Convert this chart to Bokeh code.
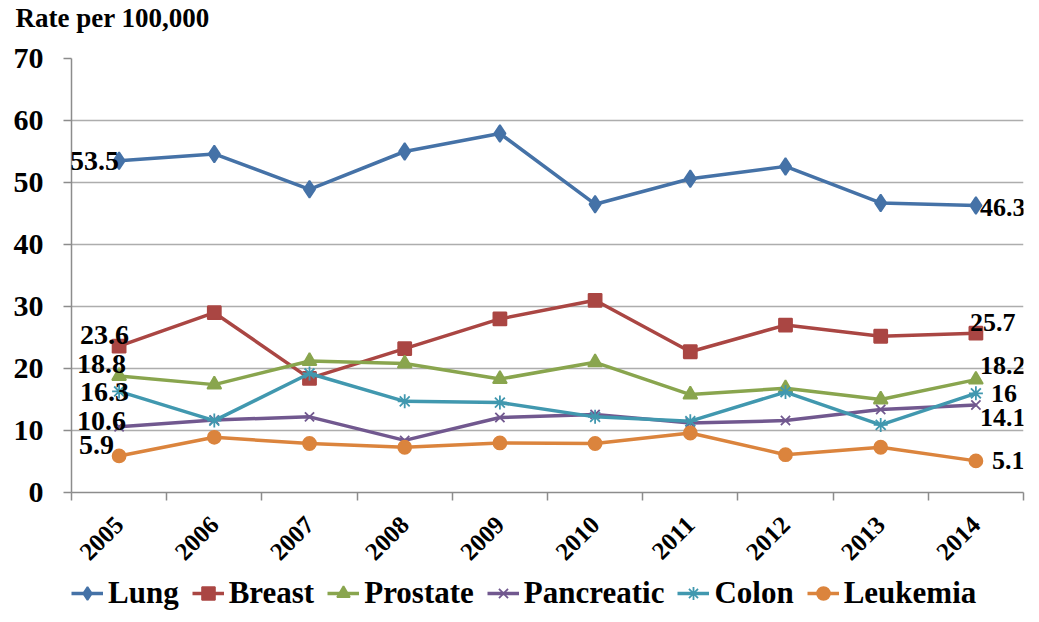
import math
from bokeh.plotting import figure
from bokeh.layouts import column
from bokeh.models import (Range1d, FixedTicker, ColumnDataSource, LabelSet, Legend,
                          LegendItem, Title)
from bokeh.core.properties import value
from bokeh.embed import file_html
from bokeh.resources import INLINE

years = ["2005", "2006", "2007", "2008", "2009", "2010", "2011", "2012", "2013", "2014"]
lung = [53.5, 54.6, 48.9, 55.0, 57.9, 46.5, 50.6, 52.6, 46.7, 46.3]
breast = [23.6, 29.0, 18.4, 23.2, 28.0, 31.0, 22.7, 27.0, 25.2, 25.7]
prostate = [18.8, 17.4, 21.2, 20.8, 18.3, 21.0, 15.8, 16.8, 15.0, 18.2]
pancreatic = [10.6, 11.7, 12.2, 8.4, 12.1, 12.6, 11.2, 11.6, 13.4, 14.1]
colon = [16.3, 11.6, 19.2, 14.7, 14.5, 12.2, 11.5, 16.2, 10.9, 16.0]
leukemia = [5.9, 8.9, 7.9, 7.3, 8.0, 7.9, 9.6, 6.1, 7.3, 5.1]
series_names = ["Lung", "Breast", "Prostate", "Pancreatic", "Colon", "Leukemia"]
y_ticks = [0, 10, 20, 30, 40, 50, 60, 70]
y_title = "Rate per 100,000"

series_values = [lung, breast, prostate, pancreatic, colon, leukemia]
colors = ["#4572A7", "#AA4643", "#89A54E", "#71588F", "#4198AF", "#DB843D"]
markers = ["diamond", "square", "triangle", "x", "asterisk", "circle"]
msizes = [17, 13, 14, 13, 14, 13]
# label offsets in px (dx right, dy down): first point (right aligned), last point (left aligned)
first_off = [(0, 0), (10, -11), (7, -12), (7, -6), (10, 1), (-5, -11)]
last_off = [(4, 2), (-6, -11), (4, -14), (4, 12), (15, 0), (16, 0)]

FONT = "Liberation Serif"
GRID = "#ADADAD"
AX = "#8C8C8C"

n = len(years)
xs = [i + 0.5 for i in range(n)]

# title strip
tf = figure(width=1031, height=36, output_backend="svg", toolbar_location=None,
            x_range=Range1d(0, n), y_range=Range1d(0, 1),
            x_axis_location=None, y_axis_location=None,
            min_border_left=0, min_border_right=0, min_border_top=0, min_border_bottom=0)
tf.outline_line_color = None
tf.xgrid.visible = False
tf.ygrid.visible = False
tf.add_layout(Title(text=y_title, align="left", offset=-56, standoff=0,
                    text_font=FONT, text_font_size="27px", text_font_style="bold",
                    text_color="black"), "above")

p = figure(width=1031, height=538, output_backend="svg", toolbar_location=None,
           x_range=Range1d(0, n), y_range=Range1d(0, 70),
           min_border_left=71, min_border_right=8, min_border_top=22, min_border_bottom=82)
p.outline_line_color = None
p.background_fill_color = "white"

# axes
xa = p.xaxis[0]
xa.ticker = FixedTicker(ticks=xs, minor_ticks=list(range(n + 1)))
xa.major_label_overrides = {x: y for x, y in zip(xs, years)}
xa.major_tick_out = 0
xa.major_tick_in = 0
xa.minor_tick_out = 8
xa.minor_tick_in = 0
xa.minor_tick_line_color = AX
xa.minor_tick_line_width = 1.5
xa.axis_line_color = AX
xa.axis_line_width = 1.5
xa.major_label_orientation = math.pi / 4
xa.major_label_standoff = 20
xa.major_label_text_font = FONT
xa.major_label_text_font_size = "25px"
xa.major_label_text_font_style = "bold"
xa.major_label_text_color = "black"

ya = p.yaxis[0]
ya.ticker = FixedTicker(ticks=y_ticks, minor_ticks=[])
ya.major_tick_out = 8
ya.major_tick_in = 0
ya.major_tick_line_color = AX
ya.major_tick_line_width = 1.5
ya.axis_line_color = AX
ya.axis_line_width = 1.5
ya.major_label_standoff = 20
ya.major_label_text_font = FONT
ya.major_label_text_font_size = "30px"
ya.major_label_text_font_style = "bold"
ya.major_label_text_color = "black"

p.xgrid.visible = False
p.ygrid.ticker = FixedTicker(ticks=y_ticks)
p.ygrid.grid_line_color = GRID
p.ygrid.grid_line_width = 1.5

lab_x, lab_y, lab_t, lab_xo, lab_yo = [], [], [], [], []
rlab_x, rlab_y, rlab_t, rlab_xo, rlab_yo = [], [], [], [], []
for name, vals, c, m, s, fo, lo in zip(series_names, series_values, colors, markers,
                                        msizes, first_off, last_off):
    p.line(xs, vals, line_color=c, line_width=3.5)
    p.scatter(xs, vals, marker=m, size=s, fill_color=c, line_color=c, line_width=1.8)
    lab_x.append(xs[0]); lab_y.append(vals[0]); lab_t.append(f"{vals[0]:g}")
    lab_xo.append(fo[0]); lab_yo.append(-fo[1])
    rlab_x.append(xs[-1]); rlab_y.append(vals[-1]); rlab_t.append(f"{vals[-1]:g}")
    rlab_xo.append(lo[0]); rlab_yo.append(-lo[1])

src_first = ColumnDataSource(dict(x=lab_x, y=lab_y, t=lab_t, xo=lab_xo, yo=lab_yo))
src_last = ColumnDataSource(dict(x=rlab_x, y=rlab_y, t=rlab_t, xo=rlab_xo, yo=rlab_yo))
for src, align, fs in ((src_first, "right", "28px"), (src_last, "left", "26px")):
    ls = LabelSet(x="x", y="y", text="t", source=src, x_offset="xo", y_offset="yo",
                  text_align=align, text_baseline="middle",
                  text_font=value(FONT), text_font_size=fs, text_font_style="bold",
                  text_color="black")
    p.add_layout(ls)

# legend strip below the chart (series drawn outside its visible range, legend only)
q = figure(width=1031, height=40, output_backend="svg", toolbar_location=None,
           x_range=Range1d(0, n), y_range=Range1d(-2, -1),
           x_axis_location=None, y_axis_location=None,
           min_border_left=0, min_border_right=0, min_border_top=0, min_border_bottom=0)
q.outline_line_color = None
q.xgrid.visible = False
q.ygrid.visible = False
items = []
for name, vals, c, m, s in zip(series_names, series_values, colors, markers, msizes):
    r1 = q.line(xs, vals, line_color=c, line_width=3.5)
    r2 = q.scatter(xs, vals, marker=m, size=s, fill_color=c, line_color=c, line_width=1.8)
    items.append(LegendItem(label=name, renderers=[r1, r2]))
legend = Legend(items=items, orientation="horizontal", location=(0, 3),
                label_text_font=FONT, label_text_font_size="31px",
                label_text_font_style="bold", label_text_color="black",
                glyph_width=32, glyph_height=36, label_height=36, label_standoff=5,
                spacing=13, padding=0, margin=0, border_line_color=None,
                background_fill_alpha=0)
q.add_layout(legend, "center")

open("out.html", "w").write(file_html(column(tf, p, q, spacing=0), INLINE))
